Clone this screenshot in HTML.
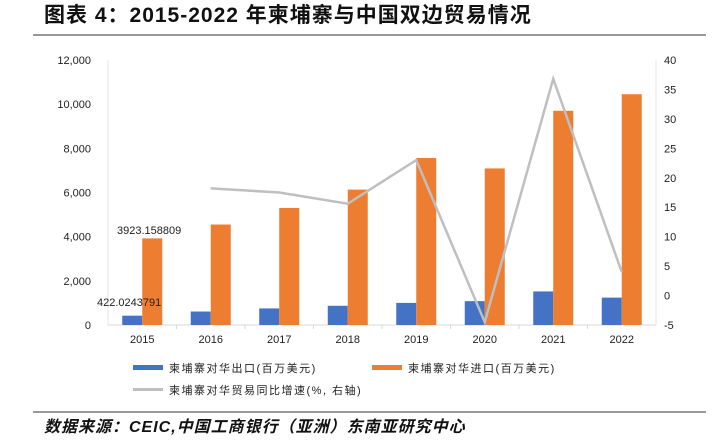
<!DOCTYPE html>
<html><head><meta charset="utf-8">
<style>
body{margin:0;width:712px;height:440px;background:#fff;overflow:hidden;font-family:"Liberation Sans","Noto Sans CJK SC",sans-serif;}
svg text{font-family:"Liberation Sans","Noto Sans CJK SC",sans-serif;}
</style></head><body>
<svg id="c" width="712" height="440">
<text x="44" y="22" font-size="21" font-weight="bold" letter-spacing="1" fill="#111">图表 4：2015-2022 年柬埔寨与中国双边贸易情况</text>
<line x1="33" y1="35" x2="706" y2="35" stroke="#777" stroke-width="1.5"/>
<line x1="33" y1="412" x2="706" y2="412" stroke="#333" stroke-width="1"/>
<text x="44" y="432" font-size="16" font-style="italic" font-weight="bold" letter-spacing="1" fill="#111">数据来源：CEIC,中国工商银行（亚洲）东南亚研究中心</text>
<g id="plot"></g>
<g>
 <g><rect x="133" y="365" width="30" height="5" fill="#4472C4"/><text x="169" y="372" font-size="11" letter-spacing="1.5" fill="#222">柬埔寨对华出口(百万美元)</text></g>
 <g><rect x="372" y="365" width="30" height="5" fill="#ED7D31"/><text x="408" y="372" font-size="11" letter-spacing="1.5" fill="#222">柬埔寨对华进口(百万美元)</text></g>
 <g><rect x="133" y="388" width="30" height="3" fill="#BFBFBF"/><text x="169" y="394" font-size="11" letter-spacing="1.5" fill="#222">柬埔寨对华贸易同比增速(%, 右轴)</text></g>
</g>
</svg>
<script>
const categories=["2015","2016","2017","2018","2019","2020","2021","2022"];
const exportVals=[422.0243791,610,750,870,1000,1080,1520,1240];
const importVals=[3923.158809,4550,5300,6130,7560,7090,9700,10450];
const growthVals=[null,18.2,17.5,15.6,23,-4.5,36.8,4.0];
const leftTicks=[0,2000,4000,6000,8000,10000,12000];
const rightTicks=[-5,0,5,10,15,20,25,30,35,40];
const NS="http://www.w3.org/2000/svg";
const g=document.getElementById('plot');
const X0=108,X1=656,Y0=325,Y1=60;
const step=(X1-X0)/categories.length;
const yL=v=>Y0-(v/12000)*(Y0-Y1);
const yR=v=>Y0-((v+5)/45)*(Y0-Y1);
const xc=i=>X0+step*(i+0.5);
function el(t,a){const e=document.createElementNS(NS,t);for(const k in a)e.setAttribute(k,a[k]);g.appendChild(e);return e;}
let ax=el('line',{x1:X0,y1:Y0,x2:X1,y2:Y0,stroke:'#D9D9D9'});


let la=el('line',{x1:X0,y1:Y1,x2:X0,y2:Y0,stroke:'#E5E5E5'});


let ra=el('line',{x1:X1,y1:Y1,x2:X1,y2:Y0,stroke:'#E5E5E5'});


leftTicks.forEach(v=>{const t=el('text',{x:91,y:yL(v)+4,'font-size':11,'text-anchor':'end',fill:'#222'});t.textContent=v.toLocaleString('en-US');

});
rightTicks.forEach(v=>{const t=el('text',{x:664,y:yR(v)+4,'font-size':11,fill:'#222'});t.textContent=v;

});
categories.forEach((c,i)=>{
 if(i>0){el('line',{x1:X0+step*i,y1:Y0,x2:X0+step*i,y2:Y0+4,stroke:'#D9D9D9'});}
 const t=el('text',{x:xc(i),y:343,'font-size':11,'text-anchor':'middle',fill:'#222'});t.textContent=c;
 
 
 const b=el('rect',{x:xc(i)-20,y:yL(exportVals[i]),width:20,height:Y0-yL(exportVals[i]),fill:'#4472C4'});
 
 
 const o=el('rect',{x:xc(i),y:yL(importVals[i]),width:20,height:Y0-yL(importVals[i]),fill:'#ED7D31'});
 
 
});
let pts=[];growthVals.forEach((v,i)=>{if(v!==null)pts.push(xc(i)+','+yR(v));});
const pl=el('polyline',{points:pts.join(' '),fill:'none',stroke:'#BFBFBF','stroke-width':2.5});


const l1=el('text',{x:117,y:234,'font-size':11,fill:'#222'});l1.textContent=String(importVals[0]);


const l2=el('text',{x:97,y:306,'font-size':11,fill:'#222'});l2.textContent=String(exportVals[0]);


</script>
</body></html>
